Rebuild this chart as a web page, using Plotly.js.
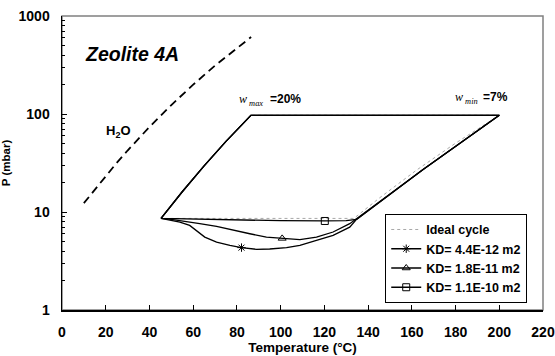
<!DOCTYPE html>
<html>
<head>
<meta charset="utf-8">
<script src="https://cdn.plot.ly/plotly-3.0.1.min.js"></script>
<style>html,body{margin:0;padding:0;background:#fff;}#chart{width:555px;height:356px;}</style>
</head>
<body>
<div id="chart"></div>
<script>
// Water saturation curve (dashed)
const h2oT = [10, 15, 20, 25, 30, 40, 50, 60, 70, 80, 86.5];
const h2oP = [12.3, 17.0, 23.4, 31.7, 42.4, 73.8, 123.4, 199.3, 311.8, 473.9, 610];

// Ideal cycle
const idealT = [45.3, 55, 65, 75, 86.4, 200, 180, 162, 145, 133.5, 45.3];
const idealP = [8.6, 16.1, 29.6, 52.5, 97, 97, 50.4, 26.6, 13.8, 8.6, 8.6];

// KD = 4.4E-12 m2
const kd1T = [45.3, 55, 65, 75, 86.4, 200, 165, 134.7, 131.6, 124, 116, 108.8, 102.7, 95, 89, 82.1, 76.8, 70.7, 65.3, 61.5, 58.4, 53.9, 49, 45.3];
const kd1P = [8.6, 16.1, 29.6, 52.5, 97, 97, 27, 8.4, 7.0, 5.78, 5.1, 4.57, 4.33, 4.19, 4.16, 4.33, 4.56, 4.93, 5.55, 6.5, 7.3, 7.9, 8.3, 8.6];

// KD = 1.8E-11 m2
const kd2T = [45.3, 55, 65, 75, 86.4, 200, 165, 134.7, 131.6, 124, 116.4, 108.8, 100.7, 93.5, 85.9, 78.3, 70.7, 63, 55.4, 50, 45.3];
const kd2P = [8.6, 16.1, 29.6, 52.5, 97, 97, 27, 8.4, 7.6, 6.25, 5.55, 5.22, 5.35, 5.55, 6.0, 6.5, 7.14, 7.6, 8.09, 8.4, 8.6];

// KD = 1.1E-10 m2
const kd3T = [45.3, 55, 65, 75, 86.4, 200, 165, 134.7, 130, 120, 100, 80, 60, 45.3];
const kd3P = [8.6, 16.1, 29.6, 52.5, 97, 97, 27, 8.4, 8.15, 8.1, 8.15, 8.3, 8.45, 8.6];

// one marker per KD curve
const markT = [82.1, 100.7, 120.2];
const markP = [4.33, 5.38, 8.1];
const kdNames = ['KD= 4.4E-12 m2', 'KD= 1.8E-11 m2', 'KD= 1.1E-10 m2'];
const kdSymbols = ['asterisk-open', 'triangle-up-open', 'square-open'];

const xTicks = [0, 20, 40, 60, 80, 100, 120, 140, 160, 180, 200, 220];
const yTicks = [1, 10, 100, 1000];
const yMinorTicks = [2, 3, 4, 5, 6, 7, 8, 9, 20, 30, 40, 50, 60, 70, 80, 90, 200, 300, 400, 500, 600, 700, 800, 900];

const FONT = 'Liberation Sans, Arial, sans-serif';
const SERIF = 'Liberation Serif, Times New Roman, serif';
const kdT = [kd1T, kd2T, kd3T];
const kdP = [kd1P, kd2P, kd3P];

const traces = [];
traces.push({x: h2oT, y: h2oP, mode: 'lines', showlegend: false,
  line: {color: '#000', width: 1.8, dash: '8px,5px'}});
traces.push({x: idealT, y: idealP, mode: 'lines', name: 'Ideal cycle', legendgroup: 'g0',
  line: {color: '#a8a8a8', width: 1, dash: 'dot'}});
for (let i = 0; i < 3; i++) {
  traces.push({x: kdT[i], y: kdP[i], mode: 'lines', showlegend: false,
    line: {color: '#000', width: 1.3}});
  traces.push({x: [markT[i]], y: [markP[i]], mode: 'markers', showlegend: false,
    marker: {symbol: kdSymbols[i], size: 7, color: '#000', line: {color: '#000', width: 1}}});
  traces.push({x: [null], y: [null], mode: 'lines+markers', name: kdNames[i], legendgroup: 'g' + (i + 1),
    line: {color: '#000', width: 1.3},
    marker: {symbol: kdSymbols[i], size: 7, color: '#000', line: {color: '#000', width: 1}}});
}

const layout = {
  width: 555, height: 356,
  margin: {l: 62, r: 12, t: 16, b: 46},
  paper_bgcolor: '#fff', plot_bgcolor: '#fff',
  font: {family: FONT, color: '#000'},
  showlegend: true,
  legend: {x: 0.672, y: 0.327, xanchor: 'left', yanchor: 'top',
    bgcolor: '#fff', bordercolor: '#000', borderwidth: 1,
    font: {family: FONT, size: 12.5, weight: 'bold', color: '#000'},
    traceorder: 'grouped', tracegroupgap: 0},
  xaxis: {range: [0, 220], tickvals: xTicks, ticktext: xTicks.map(String),
    showgrid: false, zeroline: false, showline: true, linecolor: '#000', linewidth: 1.5,
    ticks: 'inside', ticklen: 5, tickwidth: 1, tickcolor: '#000', ticklabelstandoff: 9,
    tickfont: {family: FONT, size: 14, weight: 'bold'},
    title: {text: 'Temperature (°C)', font: {family: FONT, size: 13.5, weight: 'bold'}, standoff: 1}},
  yaxis: {type: 'log', range: [0, 3], tickvals: yTicks, ticktext: yTicks.map(String),
    showgrid: false, zeroline: false, showline: true, linecolor: '#000', linewidth: 1.5,
    ticks: 'inside', ticklen: 5, tickwidth: 1, tickcolor: '#000', ticklabelstandoff: 8,
    minor: {tickvals: yMinorTicks, ticks: 'inside', ticklen: 3, tickwidth: 1, tickcolor: '#000', showgrid: false},
    tickfont: {family: FONT, size: 14, weight: 'bold'},
    title: {text: 'P (mbar)', font: {family: FONT, size: 11.5, weight: 'bold'}, standoff: 12}},
  shapes: [{type: 'rect', xref: 'paper', yref: 'paper', x0: 0, x1: 1, y0: 0, y1: 1,
    line: {color: '#808080', width: 1.5}, layer: 'below'}],
  annotations: [
    {x: 32.1, y: Math.log10(410), xref: 'x', yref: 'y', text: '<b><i>Zeolite 4A</i></b>', showarrow: false,
      font: {family: FONT, size: 19.5, color: '#000'}},
    {x: 26, y: Math.log10(67), xref: 'x', yref: 'y', text: '<b>H<sub>2</sub>O</b>', showarrow: false,
      font: {family: FONT, size: 13, color: '#000'}},
    {x: 79.9, y: Math.log10(139), xref: 'x', yref: 'y', xanchor: 'left',
      text: '<i>w</i><sub><i> max</i></sub>', showarrow: false,
      font: {family: SERIF, size: 12, color: '#000'}},
    {x: 94.3, y: Math.log10(142), xref: 'x', yref: 'y', xanchor: 'left',
      text: '<b>=20%</b>', showarrow: false,
      font: {family: FONT, size: 12, color: '#000'}},
    {x: 179.0, y: Math.log10(145), xref: 'x', yref: 'y', xanchor: 'left',
      text: '<i>w</i><sub><i> min</i></sub>', showarrow: false,
      font: {family: SERIF, size: 12, color: '#000'}},
    {x: 191.5, y: Math.log10(148), xref: 'x', yref: 'y', xanchor: 'left',
      text: '<b>=7%</b>', showarrow: false,
      font: {family: FONT, size: 12, color: '#000'}}
  ]
};

Plotly.newPlot('chart', traces, layout, {displayModeBar: false, staticPlot: true});
</script>
</body>
</html>
